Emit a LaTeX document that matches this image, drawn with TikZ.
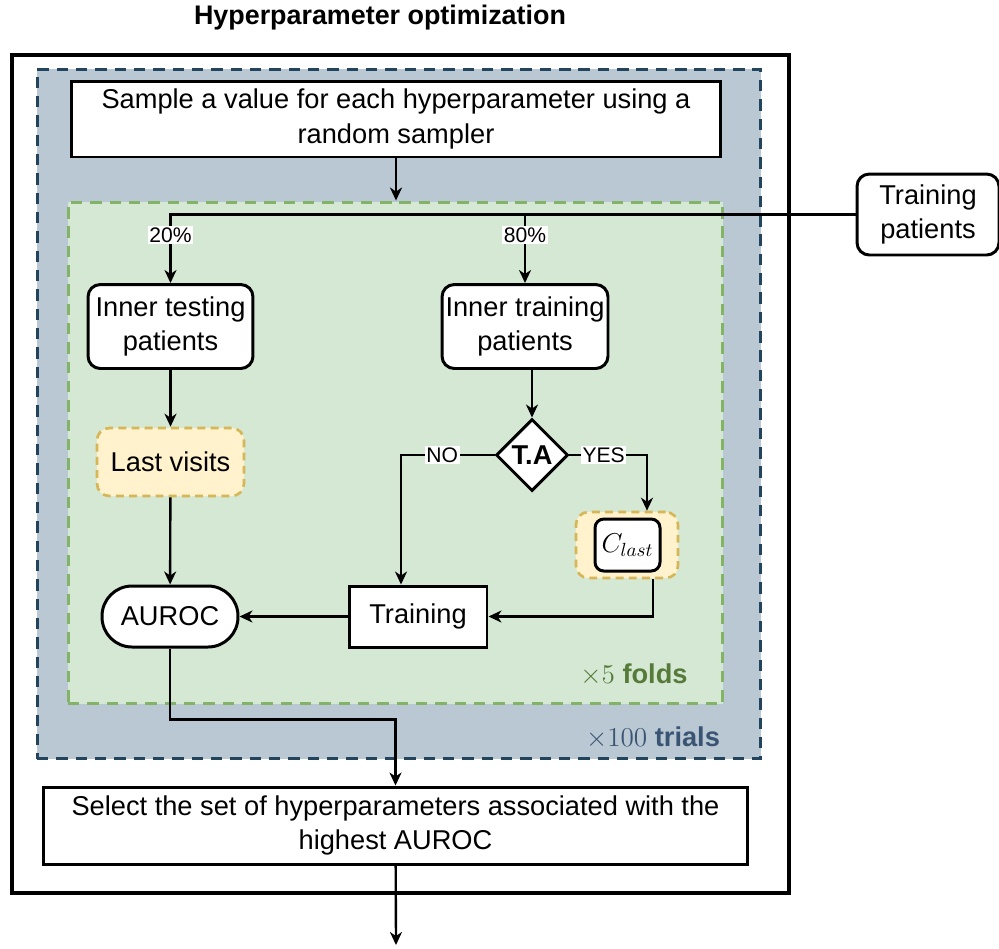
\RequirePackage{fix-cm}
\documentclass[tikz,border=0pt]{standalone}
\usepackage{fontspec}
\setmainfont{Liberation Sans}
\usepackage{tikz}
\usetikzlibrary{arrows.meta,shapes.geometric}
\usepackage{xcolor}
\definecolor{trialfill}{HTML}{BAC8D3}
\definecolor{trialline}{HTML}{23445D}
\definecolor{trialtext}{HTML}{3A5573}
\definecolor{foldfill}{HTML}{D5E8D4}
\definecolor{foldline}{HTML}{82B366}
\definecolor{foldtext}{HTML}{567A3A}
\definecolor{lastfill}{HTML}{FFF2CC}
\definecolor{lastline}{HTML}{D6B656}

\begin{document}
\begin{tikzpicture}[x=0.02cm,y=-0.02cm,>={Stealth[length=2.6mm,width=2.4mm,inset=0.8mm]},
  font=\fontsize{15.5}{19.5}\selectfont,
  box/.style={draw,line width=1.7pt,fill=white,align=center,inner sep=2pt},
  roundbox/.style={box,rounded corners=7pt},
  lastbox/.style={draw=lastline,fill=lastfill,line width=1.5pt,dash pattern=on 4.5pt off 3pt,rounded corners=7pt,align=center},
  holder/.style={line width=1.7pt,dash pattern=on 6.5pt off 4.5pt,inner sep=0pt},
  flow/.style={->,line width=1.35pt},
  lab/.style={fill=white,inner sep=1pt,font=\fontsize{12}{14}\selectfont}]
\useasboundingbox (0,0) rectangle (999,948);
% containers
\node[font=\fontsize{15.3}{18}\selectfont\bfseries] (title) at (380,18) {Hyperparameter optimization};
\node[draw,line width=2.1pt,minimum width=15.54cm,minimum height=16.76cm] (outer) at (400.5,474) {};
\node[holder,draw=trialline,fill=trialfill,minimum width=14.48cm,minimum height=13.8cm] (trials) at (399,414) {};
\node[holder,draw=foldline,fill=foldfill,minimum width=13.1cm,minimum height=10.04cm] (folds) at (395.5,453) {};
\node[text=foldtext] (foldlab) at (634,675) {$\times5$ \textbf{folds}};
\node[text=trialtext] (triallab) at (653,738) {$\times100$ \textbf{trials}};
% steps
\node[box,minimum width=13cm,minimum height=1.52cm] (sample) at (396,119) {Sample a value for each hyperparameter using a\\random sampler};
\node[roundbox,minimum width=2.84cm,minimum height=1.62cm] (trainpat) at (928,214.5) {Training\\patients};
\node[roundbox,minimum width=3.3cm,minimum height=1.68cm] (intest) at (170.5,326.5) {Inner testing\\patients};
\node[roundbox,minimum width=3.3cm,minimum height=1.68cm] (intrain) at (525,326.5) {Inner training\\patients};
\node[lastbox,minimum width=2.94cm,minimum height=1.36cm] (lastvis) at (170.5,462) {Last visits};
\node[box,diamond,aspect=1,minimum size=1.44cm,inner sep=0pt,font=\fontsize{15.5}{18.5}\selectfont\bfseries] (ta) at (532,455) {T.A};
\node[lastbox,minimum width=2.04cm,minimum height=1.32cm] (clastbg) at (627,545) {};
\node[box,rounded corners=5pt,minimum width=1.3cm,minimum height=1.04cm] (clast) at (627.5,545) {$C_{last}$};
\node[box,rounded corners=0.6cm,minimum width=2.72cm,minimum height=1.22cm] (auroc) at (170,616.5) {AUROC};
\node[box,minimum width=2.76cm,minimum height=1.22cm] (training) at (418,616.5) {Training};
\node[box,minimum width=14.1cm,minimum height=1.54cm] (select) at (395.5,825.5) {Select the set of hyperparameters associated with the\\highest AUROC};
\coordinate (out) at (396,945);
% connectors
\draw[flow] (sample.south) -- (sample.south |- folds.north);
\draw[flow] (trainpat.west) -| node[lab,pos=0.65]{20\%} (intest.north);
\draw[flow] (trainpat.west -| intrain.north) -- node[lab,pos=0.3]{80\%} (intrain.north);
\draw[flow] (intest) -- (lastvis);
\draw[flow] (lastvis) -- (auroc);
\draw[flow] (intrain.south -| ta.north) -- (ta.north);
\draw[flow] (ta.west) -| node[lab,pos=0.28]{NO} ([xshift=-0.34cm]training.north);
\draw[flow] (ta.east) -| node[lab,pos=0.22]{YES} ([xshift=0.4cm]clastbg.north);
\draw[flow] ([xshift=0.52cm]clastbg.south) |- (training.east);
\draw[flow] (training) -- (auroc);
\draw[flow] (auroc.south) -- ++(0,71) -| (select.north);
\draw[flow] (select) -- (out);
\end{tikzpicture}
\end{document}
